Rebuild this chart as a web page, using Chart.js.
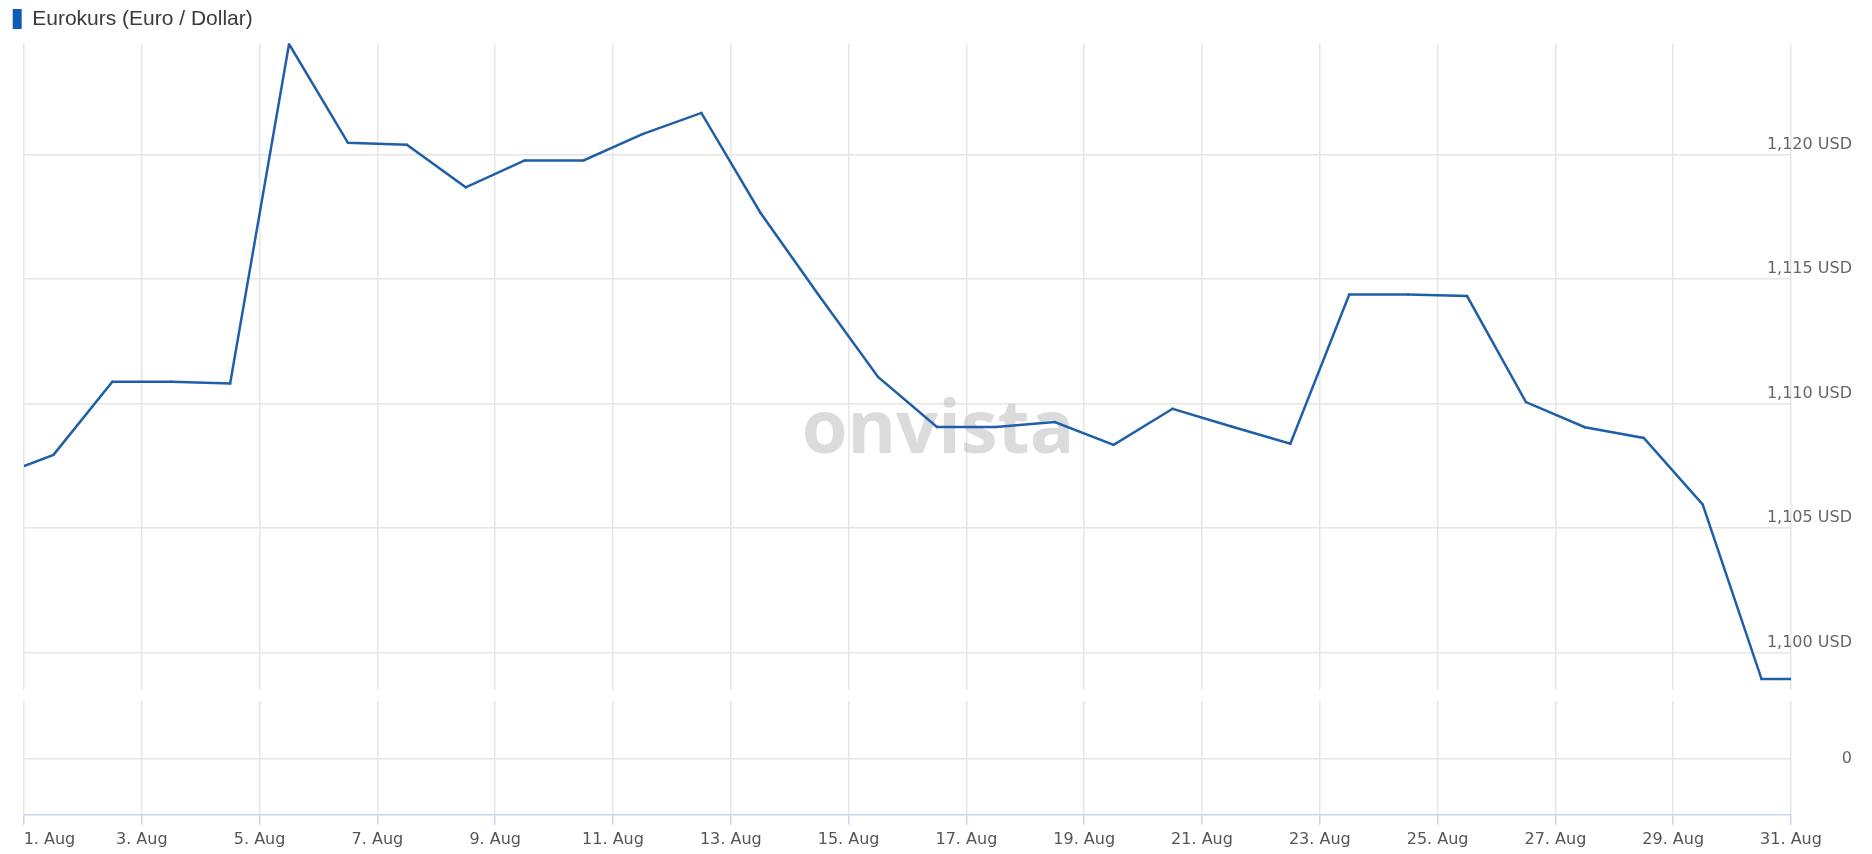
<!DOCTYPE html>
<html>
<head>
<meta charset="utf-8">
<script src="https://cdn.jsdelivr.net/npm/chart.js@4.4.1/dist/chart.umd.min.js"></script>
<style>
  html, body { margin: 0; padding: 0; background: #fff; }
  #wrap { width: 1872px; height: 854px; }
</style>
</head>
<body>
<div id="wrap"><canvas id="chart"></canvas></div>
<script>
// Tage im August (Mittagswerte, dazu Monatsanfang und -ende)
const days = [1, 1.5, 2.5, 3.5, 4.5, 5.5, 6.5, 7.5, 8.5, 9.5, 10.5, 11.5, 12.5, 13.5, 14.5, 15.5,
  16.5, 17.5, 18.5, 19.5, 20.5, 21.5, 22.5, 23.5, 24.5, 25.5, 26.5, 27.5, 28.5, 29.5, 30.5, 31];
const rates = [1.10749, 1.10794, 1.11088, 1.11088, 1.11081, 1.12445, 1.12048, 1.12040, 1.11869, 1.11977,
  1.11977, 1.12083, 1.12168, 1.11768, 1.11433, 1.11107, 1.10906, 1.10906, 1.10926, 1.10834, 1.10979,
  1.10908, 1.10839, 1.11438, 1.11438, 1.11432, 1.11006, 1.10905, 1.10862, 1.10595, 1.09893, 1.09893];

const dayTicks = [1, 3, 5, 7, 9, 11, 13, 15, 17, 19, 21, 23, 25, 27, 29, 31];
const rateTicks = [1.100, 1.105, 1.110, 1.115, 1.120];
const volumeTicks = [0];

const seriesName = 'Eurokurs (Euro / Dollar)';
const lineColor = '#1f5fa8';
const gridColor = '#e6e6e6';
const tickFont = { family: "'DejaVu Sans', Verdana, sans-serif", size: 16 };

const fmtRate = v => v.toFixed(3).replace('.', ',') + ' USD';
// erste Beschriftung steht rechts vom Tick (wie im Original), daher vorne aufgefüllt
const fmtDay = v => (v === dayTicks[0] ? ' '.repeat(10) : '') + v + '. Aug';

// rechte Achse: feste Breite, Beschriftung rechtsbündig und in die Fläche ragend
const AXIS_W = 61;
const fixAxis = s => {
  s.width = AXIS_W;
  s.paddingTop = 0;
  s.paddingBottom = 0;
  s.paddingLeft = 0;
  s.paddingRight = 0;
};

// weisser Streifen zwischen Kurs- und Volumenbereich + Wasserzeichen
const panesPlugin = {
  id: 'panes',
  beforeDatasetsDraw(chart) {
    const { ctx, chartArea, scales } = chart;
    const y = scales.y;
    ctx.save();
    ctx.fillStyle = '#ffffff';
    ctx.fillRect(chartArea.left - 2, y.bottom, chartArea.right - chartArea.left + 4, 11);
    ctx.font = "bold 74px 'Open Sans', sans-serif";
    ctx.fillStyle = 'rgba(190,190,190,0.55)';
    ctx.textAlign = 'center';
    ctx.textBaseline = 'alphabetic';
    ctx.fillText('onvista', 938, 453);
    ctx.restore();
  }
};

const legendSpace = {
  id: 'legendSpace',
  beforeInit(chart) {
    const fit = chart.legend.fit;
    chart.legend.fit = function () {
      fit.bind(chart.legend)();
      this.height += 4;
    };
  }
};

new Chart(document.getElementById('chart'), {
  type: 'line',
  data: {
    datasets: [{
      label: seriesName,
      data: days.map((d, i) => ({ x: d, y: rates[i] })),
      borderColor: lineColor,
      backgroundColor: lineColor,
      borderWidth: 2.5,
      pointRadius: 1.2,
      pointBorderWidth: 0,
      pointBackgroundColor: lineColor,
      tension: 0,
      yAxisID: 'y'
    }]
  },
  options: {
    responsive: true,
    maintainAspectRatio: false,
    animation: false,
    layout: { padding: { left: 2.7, right: 20, top: -1.5, bottom: 0 } },
    plugins: {
      legend: {
        display: true,
        position: 'top',
        align: 'start',
        labels: {
          boxWidth: 9,
          boxHeight: 20,
          padding: 10,
          color: '#3a3a3a',
          font: { family: "'Liberation Sans', Arial, sans-serif", size: 21 },
          generateLabels: chart => Chart.defaults.plugins.legend.labels.generateLabels(chart)
            .map(l => ({ ...l, lineWidth: 0, fillStyle: '#0d5cb8' }))
        }
      },
      tooltip: { enabled: false }
    },
    scales: {
      x: {
        type: 'linear',
        min: 1,
        max: 31,
        afterBuildTicks: s => { s.ticks = dayTicks.map(v => ({ value: v })); },
        afterFit: s => { s.paddingLeft = 24; },
        ticks: {
          callback: fmtDay,
          font: tickFont,
          color: '#555',
          padding: 5,
          maxRotation: 0,
          autoSkip: false
        },
        grid: { color: gridColor, lineWidth: 1.5, drawTicks: true, tickLength: 10, tickColor: '#ccd6eb', tickWidth: 1.5 },
        border: { display: true, color: '#ccd6eb', width: 1.5 }
      },
      y: {
        type: 'linear',
        position: 'right',
        stack: 'panes',
        stackWeight: 646,
        min: 1.0985,
        max: 1.12447,
        afterBuildTicks: s => { s.ticks = rateTicks.map(v => ({ value: v })); },
        afterFit: fixAxis,
        ticks: {
          callback: v => fmtRate(v),
          font: tickFont,
          color: '#666',
          mirror: true,
          crossAlign: 'near',
          padding: AXIS_W,
          labelOffset: -10
        },
        grid: { color: gridColor, lineWidth: 1.5, drawTicks: false },
        border: { display: false }
      },
      y2: {
        type: 'linear',
        position: 'right',
        stack: 'panes',
        stackWeight: 125,
        min: -0.81,
        max: 1,
        afterBuildTicks: s => { s.ticks = volumeTicks.map(v => ({ value: v })); },
        afterFit: fixAxis,
        ticks: {
          font: tickFont,
          color: '#666',
          mirror: true,
          crossAlign: 'near',
          padding: AXIS_W
        },
        grid: { color: gridColor, lineWidth: 1.5, drawTicks: false },
        border: { display: false }
      }
    }
  },
  plugins: [panesPlugin, legendSpace]
});
</script>
</body>
</html>
